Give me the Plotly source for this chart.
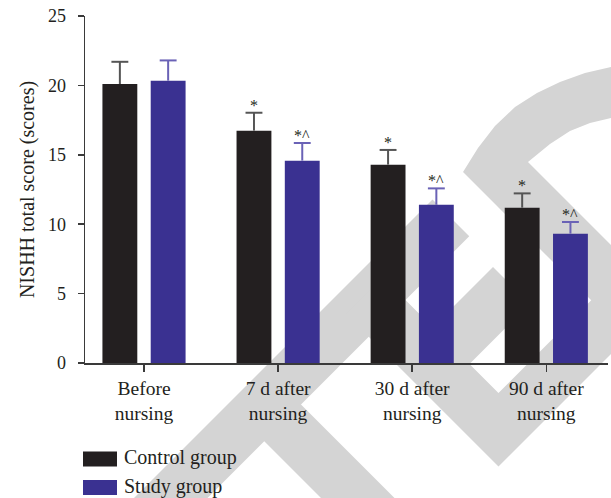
import plotly.graph_objects as go

# ---------------- data ----------------
categories = ["Before<br>nursing", "7 d after<br>nursing", "30 d after<br>nursing", "90 d after<br>nursing"]
control_mean = [20.10, 16.74, 14.29, 11.19]
control_sd = [1.60, 1.29, 1.06, 1.03]
study_mean = [20.34, 14.58, 11.40, 9.32]
study_sd = [1.46, 1.27, 1.18, 0.84]
control_marks = ["", "*", "*", "*"]
study_marks = ["", "*^", "*^", "*^"]
series_names = ["Control group", "Study group"]

# ---------------- style ----------------
OX, OY = 0, 0            # page margin removed by post_script below
WIN_W, WIN_H = 611, 498
W, H = WIN_W - OX, WIN_H - OY
PX0, PX1, PY0, PY1 = 85, 608, 16, 363          # plot area in window pixels
L, T = PX0 - OX, PY0 - OY
R, B = W - (PX1 - OX), H - (PY1 - OY)
PW, PH = PX1 - PX0, PY1 - PY0
FONT = "Liberation Serif"
TXT = "#231f20"
AX = "#3a3a3a"
C_CTRL, C_STUDY = "#231f20", "#3a3191"
E_CTRL, E_STUDY = "#555555", "#6a62b6"
WM = "#d4d4d4"
OFF, BW, CAP = 0.18, 0.26, 0.063


def pp(x, y):
    return (x - PX0) / PW, (PY1 - y) / PH


def path(pts):
    s = ""
    for i, (x, y) in enumerate(pts):
        a, b = pp(x, y)
        s += ("M" if i == 0 else "L") + f"{a:.4f},{b:.4f} "
    return s + "Z"


fig = go.Figure()

xs_c = [i - OFF for i in range(len(categories))]
xs_s = [i + OFF for i in range(len(categories))]

fig.add_trace(go.Bar(x=xs_c, y=control_mean, width=BW, name=series_names[0],
                     marker=dict(color=C_CTRL, line_width=0), showlegend=False))
fig.add_trace(go.Bar(x=xs_s, y=study_mean, width=BW, name=series_names[1],
                     marker=dict(color=C_STUDY, line_width=0), showlegend=False))


def whiskers(xs, means, sds):
    wx, wy = [], []
    for x, m, s in zip(xs, means, sds):
        wx += [x, x, None, x - CAP, x + CAP, None]
        wy += [m, m + s, None, m + s, m + s, None]
    return wx, wy


for xs, mm, ss, col in [(xs_c, control_mean, control_sd, E_CTRL), (xs_s, study_mean, study_sd, E_STUDY)]:
    wx, wy = whiskers(xs, mm, ss)
    fig.add_trace(go.Scatter(x=wx, y=wy, mode="lines", line=dict(color=col, width=2),
                             showlegend=False, hoverinfo="skip"))

ann = []
for xs, mm, ss, marks in [(xs_c, control_mean, control_sd, control_marks), (xs_s, study_mean, study_sd, study_marks)]:
    for x, m, s, t in zip(xs, mm, ss, marks):
        if t:
            ann.append(dict(x=x, y=m + s, text=t, showarrow=False, xanchor="center", yanchor="bottom",
                            yshift=-3, font=dict(family=FONT, size=16, color=TXT)))

# legend (manual)
shapes = []
for i, (name, col) in enumerate(zip(series_names, [C_CTRL, C_STUDY])):
    y0 = 451.5 + i * 28.5
    x0p, y0p = pp(83, y0)
    x1p, y1p = pp(117, y0 + 15)
    shapes.append(dict(type="rect", xref="paper", yref="paper", x0=x0p, x1=x1p, y0=y1p, y1=y0p,
                       fillcolor=col, line_width=0))
    tx, ty = pp(122, y0 + 6)
    ann.append(dict(x=tx, y=ty, xref="paper", yref="paper", text=name, showarrow=False,
                    xanchor="left", yanchor="middle", font=dict(family=FONT, size=20, color=TXT)))

# watermark (background decoration, window pixel coordinates)
wm_polys = [
    [(432.5, 199.5), (469.25, 236.25), (52.75, 652.75), (16, 616)],
    [(346, 314), (498.5, 466.5), (682.5, 282.5), (645.75, 245.75), (498.5, 393), (382.75, 277.25)],
    [(251.5, 428.5), (288.25, 391.75), (448.25, 551.75), (411.5, 588.5)],
    [(493, 267), (529.75, 303.75), (461.75, 371.75), (425, 335)],
    [(463, 172), (478, 148), (495, 126), (515, 107), (537, 93), (560, 82), (585, 73), (611, 67), (650, 62),
     (650, 113), (611, 118), (590, 123), (570, 131), (550, 144), (528, 162), (683, 317), (645.5, 354.5)],
]
for poly in wm_polys:
    shapes.append(dict(type="path", xref="paper", yref="paper", path=path(poly),
                       fillcolor=WM, line_width=0, layer="below"))

fig.update_layout(
    width=W, height=H, margin=dict(l=L, r=R, t=T, b=B, pad=0),
    paper_bgcolor="white", plot_bgcolor="rgba(0,0,0,0)",
    barmode="overlay", showlegend=False,
    font=dict(family=FONT, color=TXT),
    shapes=shapes, annotations=ann,
    xaxis=dict(range=[-0.44, 3.46], tickmode="array", tickvals=list(range(len(categories))),
               ticktext=categories, ticks="outside", ticklen=7, tickwidth=1.5, tickcolor=AX,
               showline=True, linecolor=AX, linewidth=1.5, showgrid=False, zeroline=False,
               tickfont=dict(family=FONT, size=19.5, color=TXT), fixedrange=True, automargin=False,
               ticklabeloverflow="allow"),
    yaxis=dict(range=[0, 25], tickmode="array", tickvals=[0, 5, 10, 15, 20, 25],
               ticks="outside", ticklen=6, tickwidth=1.5, tickcolor=AX,
               showline=True, linecolor=AX, linewidth=1.5, showgrid=False, zeroline=False,
               tickfont=dict(family=FONT, size=18, color=TXT), ticklabelstandoff=8,
               ticklabeloverflow="allow",
               title=dict(text="NISHH total score (scores)", font=dict(family=FONT, size=20, color=TXT),
                          standoff=8), fixedrange=True, automargin=False),
)

fig.write_html("out.html", config={"displayModeBar": False, "staticPlot": True},
               post_script="document.body.style.margin='0';")
